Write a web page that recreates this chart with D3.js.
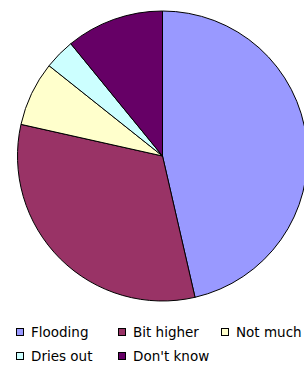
<!DOCTYPE html>
<html>
<head>
<meta charset="utf-8">
<script src="https://cdn.jsdelivr.net/npm/d3@7"></script>
<style>
  body { margin: 0; background: #fff; }
  svg { display: block; }
  .legend text { font: 13.5px "DejaVu Sans", sans-serif; fill: #000; }
</style>
</head>
<body>
<div id="chart"></div>
<script>
var categories = ["Flooding", "Bit higher", "Not much", "Dries out", "Don't know"];
var values = [46.4, 32.1, 7.2, 3.4, 10.9];
var colours = ["#9999ff", "#993366", "#ffffcc", "#ccffff", "#660066"];

var width = 304, height = 367;
var cx = 162.5, cy = 156, radius = 145;

var svg = d3.select("#chart").append("svg").attr("width", width).attr("height", height);

var color = d3.scaleOrdinal().domain(categories).range(colours);

var data = categories.map((c, i) => ({name: c, value: values[i]}));
var pie = d3.pie().value(d => d.value).sort(null);
var arc = d3.arc().outerRadius(radius).innerRadius(0);

var g = svg.append("g").attr("transform", `translate(${cx}, ${cy})`);
g.selectAll("path")
    .data(pie(data))
    .enter().append("path")
    .attr("d", arc)
    .attr("fill", d => color(d.data.name))
    .attr("stroke", "#000")
    .attr("stroke-width", 1)
    .attr("stroke-linejoin", "round");

// legend, 3 per row
var legendPos = [[16, 328], [118, 328], [221, 328], [16, 352], [118, 352]];
var legend = svg.append("g").attr("class", "legend");
var items = legend.selectAll("g")
    .data(categories)
    .enter().append("g")
    .attr("transform", (d, i) => `translate(${legendPos[i][0]}, ${legendPos[i][1]})`);

items.append("rect")
    .attr("x", 0.5).attr("y", 0.5)
    .attr("width", 7).attr("height", 7)
    .attr("fill", d => color(d))
    .attr("stroke", "#000");

items.append("text")
    .attr("x", 15)
    .attr("y", 9)
    .text(d => d);
</script>
</body>
</html>
